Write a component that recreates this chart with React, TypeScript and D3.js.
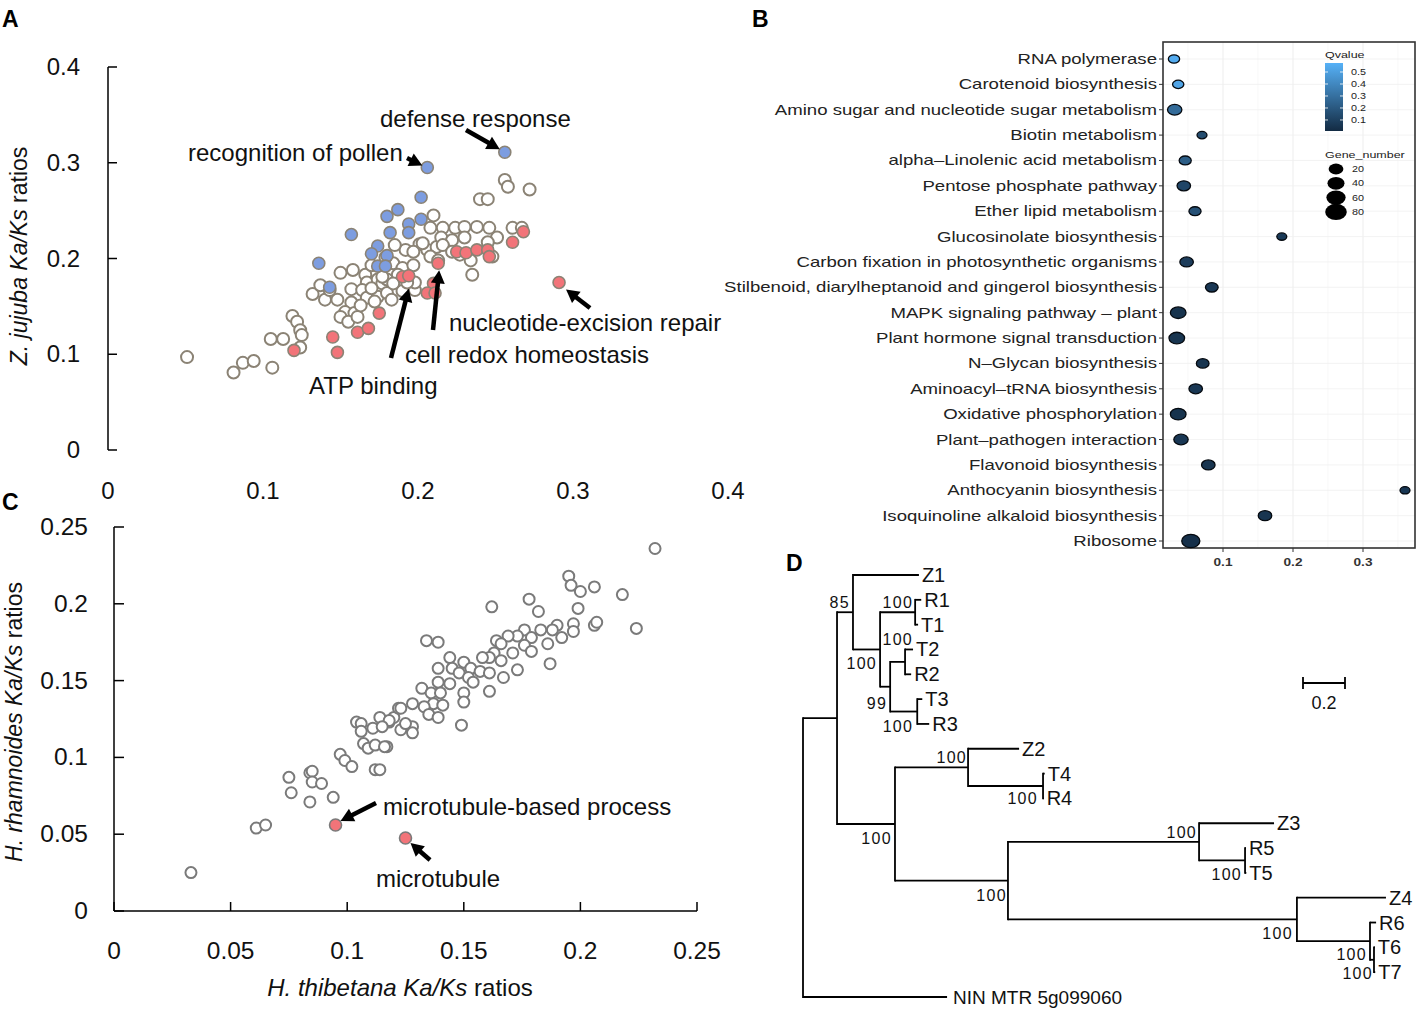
import React from 'react';
import * as d3 from 'd3';

// ---------------- Panel A data (H. thibetana vs Z. jujuba Ka/Ks) ----------------
const aWhite: [number, number][] = [
  [0.210, 0.245], [0.208, 0.232], [0.201, 0.215], [0.192, 0.209], [0.197, 0.207], [0.206, 0.209],
  [0.212, 0.212], [0.184, 0.195], [0.190, 0.190], [0.197, 0.193], [0.187, 0.183], [0.150, 0.185],
  [0.158, 0.188], [0.166, 0.183], [0.167, 0.175], [0.174, 0.178], [0.177, 0.174], [0.180, 0.178],
  [0.132, 0.163], [0.140, 0.157], [0.148, 0.157], [0.157, 0.168], [0.164, 0.167], [0.167, 0.159],
  [0.174, 0.160], [0.180, 0.164], [0.190, 0.166], [0.198, 0.167], [0.157, 0.154], [0.172, 0.155],
  [0.153, 0.144], [0.159, 0.143], [0.150, 0.139], [0.155, 0.134], [0.161, 0.139], [0.119, 0.140],
  [0.122, 0.134], [0.124, 0.125], [0.125, 0.120], [0.105, 0.116], [0.113, 0.116], [0.124, 0.107],
  [0.051, 0.097], [0.081, 0.081], [0.087, 0.091], [0.094, 0.093], [0.106, 0.086], [0.256, 0.282],
  [0.258, 0.275], [0.272, 0.272], [0.240, 0.262], [0.245, 0.262], [0.216, 0.232], [0.224, 0.232],
  [0.230, 0.233], [0.238, 0.233], [0.246, 0.232], [0.251, 0.222], [0.261, 0.232], [0.267, 0.232],
  [0.215, 0.222], [0.222, 0.219], [0.230, 0.222], [0.245, 0.217], [0.203, 0.216], [0.208, 0.202],
  [0.216, 0.214], [0.222, 0.207], [0.227, 0.204], [0.234, 0.198], [0.248, 0.202], [0.213, 0.198],
  [0.235, 0.183], [0.198, 0.175], [0.193, 0.175], [0.185, 0.214], [0.179, 0.201], [0.170, 0.169],
  [0.183, 0.157], [0.163, 0.151], [0.143, 0.167], [0.137, 0.172], [0.177, 0.181], [0.184, 0.174],
  [0.170, 0.193],
];
const aBlue: [number, number][] = [
  [0.256, 0.311], [0.206, 0.295], [0.202, 0.264], [0.187, 0.251], [0.180, 0.244], [0.202, 0.241],
  [0.194, 0.236], [0.182, 0.227], [0.194, 0.227], [0.157, 0.225], [0.174, 0.213], [0.170, 0.205],
  [0.180, 0.203], [0.136, 0.195], [0.174, 0.192], [0.179, 0.192], [0.143, 0.170],
];
const aRed: [number, number][] = [
  [0.190, 0.181], [0.194, 0.182], [0.175, 0.143], [0.161, 0.123], [0.168, 0.127], [0.145, 0.118],
  [0.120, 0.104], [0.148, 0.102], [0.210, 0.174], [0.206, 0.164], [0.211, 0.164], [0.213, 0.195],
  [0.268, 0.228], [0.261, 0.217], [0.225, 0.207], [0.231, 0.206], [0.238, 0.209], [0.245, 0.209],
  [0.246, 0.202], [0.291, 0.175],
];
const aTicks = [0, 0.1, 0.2, 0.3, 0.4];
const aLabels = ['defense response', 'recognition of pollen', 'nucleotide-excision repair', 'cell redox homeostasis', 'ATP binding'];

// ---------------- Panel B data (KEGG enrichment) ----------------
const bCategories = [
  'RNA polymerase', 'Carotenoid biosynthesis', 'Amino sugar and nucleotide sugar metabolism',
  'Biotin metabolism', 'alpha\u2013Linolenic acid metabolism', 'Pentose phosphate pathway',
  'Ether lipid metabolism', 'Glucosinolate biosynthesis', 'Carbon fixation in photosynthetic organisms',
  'Stilbenoid, diarylheptanoid and gingerol biosynthesis', 'MAPK signaling pathway \u2013 plant',
  'Plant hormone signal transduction', 'N\u2013Glycan biosynthesis', 'Aminoacyl\u2013tRNA biosynthesis',
  'Oxidative phosphorylation', 'Plant\u2013pathogen interaction', 'Flavonoid biosynthesis',
  'Anthocyanin biosynthesis', 'Isoquinoline alkaloid biosynthesis', 'Ribosome',
];
const bRichFactor = [0.030, 0.036, 0.031, 0.070, 0.046, 0.044, 0.060, 0.184, 0.048, 0.084,
  0.036, 0.034, 0.071, 0.061, 0.036, 0.040, 0.079, 0.360, 0.160, 0.054];
const bGeneNumber = [20, 20, 46, 9, 27, 39, 27, 9, 39, 32, 57, 57, 32, 39, 57, 46, 39, 9, 39, 78];
const bQvalue = [0.55, 0.52, 0.28, 0.15, 0.22, 0.12, 0.17, 0.07, 0.08, 0.06, 0.04, 0.05, 0.05,
  0.06, 0.04, 0.06, 0.05, 0.06, 0.05, 0.03];
const bTicks = [0.1, 0.2, 0.3];
const bQTicks = [0.1, 0.2, 0.3, 0.4, 0.5];
const bSizeTicks = [20, 40, 60, 80];

// ---------------- Panel C data (H. thibetana vs H. rhamnoides) ----------------
const cWhite: [number, number][] = [
  [0.033, 0.025], [0.061, 0.054], [0.065, 0.056], [0.075, 0.087], [0.076, 0.077], [0.084, 0.090],
  [0.085, 0.091], [0.085, 0.084], [0.089, 0.083], [0.084, 0.071], [0.094, 0.074], [0.097, 0.102],
  [0.099, 0.098], [0.102, 0.094], [0.112, 0.092], [0.104, 0.123], [0.106, 0.122], [0.106, 0.117],
  [0.111, 0.119], [0.114, 0.126], [0.118, 0.123], [0.120, 0.126], [0.122, 0.132], [0.107, 0.109],
  [0.109, 0.106], [0.112, 0.108], [0.117, 0.107], [0.232, 0.236], [0.195, 0.218], [0.196, 0.212],
  [0.200, 0.208], [0.206, 0.211], [0.218, 0.206], [0.199, 0.197], [0.206, 0.186], [0.207, 0.188],
  [0.224, 0.184], [0.178, 0.203], [0.182, 0.195], [0.162, 0.198], [0.134, 0.176], [0.139, 0.175],
  [0.190, 0.186], [0.197, 0.187], [0.188, 0.183], [0.192, 0.178], [0.197, 0.182], [0.186, 0.174],
  [0.183, 0.183], [0.176, 0.183], [0.179, 0.178], [0.173, 0.179], [0.169, 0.179], [0.164, 0.176],
  [0.166, 0.174], [0.176, 0.173], [0.171, 0.168], [0.179, 0.169], [0.163, 0.168], [0.161, 0.165],
  [0.158, 0.165], [0.144, 0.165], [0.150, 0.162], [0.153, 0.158], [0.157, 0.156], [0.161, 0.155],
  [0.166, 0.163], [0.167, 0.152], [0.173, 0.157], [0.187, 0.161], [0.139, 0.158], [0.145, 0.158],
  [0.148, 0.155], [0.152, 0.152], [0.154, 0.149], [0.161, 0.143], [0.139, 0.149], [0.144, 0.148],
  [0.150, 0.142], [0.150, 0.136], [0.132, 0.145], [0.136, 0.142], [0.140, 0.142], [0.137, 0.135],
  [0.141, 0.134], [0.133, 0.133], [0.128, 0.135], [0.135, 0.128], [0.139, 0.126], [0.123, 0.132],
  [0.118, 0.124], [0.123, 0.118], [0.128, 0.120], [0.128, 0.116], [0.125, 0.122], [0.115, 0.120],
  [0.149, 0.121], [0.116, 0.107], [0.114, 0.092],
];
const cRed: [number, number][] = [[0.095, 0.056], [0.125, 0.0475]];
const cTicks = [0, 0.05, 0.1, 0.15, 0.2, 0.25];
const cLabels = ['microtubule-based process', 'microtubule'];

// ---------------- Panel D data (phylogenetic tree, branch lengths) ----------------
type TNode = { name: string; len: number; boot?: number; children?: TNode[] };
const treeData: TNode = {
  name: 'root', len: 0, children: [
    { name: 'C1', len: 0.162, children: [
      { name: 'N85', len: 0.076, boot: 85, children: [
        { name: 'Z1', len: 0.314 },
        { name: 'N100a', len: 0.129, boot: 100, children: [
          { name: 'NR1T1', len: 0.167, boot: 100, children: [
            { name: 'R1', len: 0.029 }, { name: 'T1', len: 0.014 }] },
          { name: 'N99', len: 0.048, boot: 99, children: [
            { name: 'NT2R2', len: 0.071, boot: 100, children: [
              { name: 'T2', len: 0.038 }, { name: 'R2', len: 0.029 }] },
            { name: 'NT3R3', len: 0.129, boot: 100, children: [
              { name: 'T3', len: 0.024 }, { name: 'R3', len: 0.057 }] }] }] }] },
      { name: 'N100b', len: 0.276, boot: 100, children: [
        { name: 'NZ2', len: 0.348, boot: 100, children: [
          { name: 'Z2', len: 0.243 },
          { name: 'NT4R4', len: 0.357, boot: 100, children: [
            { name: 'T4', len: 0.008 }, { name: 'R4', len: 0.003 }] }] },
        { name: 'N1008', len: 0.538, boot: 100, children: [
          { name: 'NZ3', len: 0.910, boot: 100, children: [
            { name: 'Z3', len: 0.357 },
            { name: 'NR5T5', len: 0.219, boot: 100, children: [
              { name: 'R5', len: 0.004 }, { name: 'T5', len: 0.006 }] }] },
          { name: 'NZ4', len: 1.376, boot: 100, children: [
            { name: 'Z4', len: 0.424 },
            { name: 'NA', len: 0.348, boot: 100, children: [
              { name: 'R6', len: 0.029 },
              { name: 'NB', len: 0.019, boot: 100, children: [
                { name: 'T6', len: 0.004 }, { name: 'T7', len: 0.006 }] }] }] }] }] }] },
    { name: 'NIN MTR 5g099060', len: 0.686 },
  ],
};
const scaleBarLength = 0.2;

// label placement for bootstrap values: [dx, dy] relative to node
const bootOffsets: Record<string, [number, number]> = {
  N85: [-3, -4], N100a: [-3, 20], NR1T1: [-2, -4], N99: [-3, 22], NT2R2: [8, -17], NT3R3: [-4, 20],
  N100b: [-3, 20], NZ2: [-1, -4], NT4R4: [-5, 18], N1008: [-1, 20], NZ3: [-2, -4], NR5T5: [-3, 20],
  NZ4: [-4, 20], NA: [-3, 19], NB: [-1, 19],
};

const FONT = 'Liberation Sans, Arial, Helvetica, sans-serif';

function Arrow({ x1, y1, x2, y2 }: { x1: number; y1: number; x2: number; y2: number }) {
  const dx = x2 - x1, dy = y2 - y1;
  const L = Math.sqrt(dx * dx + dy * dy);
  const ux = dx / L, uy = dy / L;
  const hl = 13, hw = 7;
  const bx = x2 - ux * hl, by = y2 - uy * hl;
  const px = -uy, py = ux;
  return (
    <g>
      <line x1={x1} y1={y1} x2={bx + ux * 2} y2={by + uy * 2} stroke="#000" strokeWidth={4.5} />
      <polygon points={`${x2},${y2} ${bx + px * hw},${by + py * hw} ${bx - px * hw},${by - py * hw}`} fill="#000" />
    </g>
  );
}

function PanelA() {
  const x = d3.scaleLinear().domain([0, 0.4]).range([108, 728]);
  const y = d3.scaleLinear().domain([0, 0.4]).range([450, 67]);
  const fmt = d3.format('~g');
  const stroke = '#8b8375';
  const ann = [
    { t: aLabels[0], tx: 380, ty: 127, p: aBlue[0], tail: [466, 130], off: [-5, -3] },
    { t: aLabels[1], tx: 188, ty: 161, p: aBlue[1], tail: [407, 158], off: [-5, -2] },
    { t: aLabels[2], tx: 449, ty: 331, p: aRed[19], tail: [590, 308], off: [7, 7] },
    { t: aLabels[3], tx: 405, ty: 363, p: aRed[11], tail: [433, 330], off: [1, 7] },
    { t: aLabels[4], tx: 309, ty: 394, p: aRed[1], tail: [391, 358], off: [0, 13] },
  ];
  return (
    <g fontFamily={FONT}>
      <line x1={108} x2={108} y1={y(0.4)} y2={y(0)} stroke="#000" strokeWidth={1.5} />
      {aTicks.map((t) => (
        <g key={'ay' + t}>
          <line x1={108} x2={117} y1={y(t)} y2={y(t)} stroke="#000" strokeWidth={1.5} />
          <text x={80} y={y(t) + 8} textAnchor="end" fontSize={24} fill="#111">{fmt(t)}</text>
        </g>
      ))}
      {aTicks.map((t) => (
        <text key={'ax' + t} x={x(t)} y={499} textAnchor="middle" fontSize={24} fill="#111">{fmt(t)}</text>
      ))}
      <text transform="translate(27,256) rotate(-90)" textAnchor="middle" fontSize={23} fill="#111">
        <tspan fontStyle="italic">Z. jujuba Ka/Ks</tspan> ratios
      </text>
      {aWhite.map((d, i) => (
        <circle key={'aw' + i} cx={x(d[0])} cy={y(d[1])} r={6} fill="#fff" stroke={stroke} strokeWidth={2} />
      ))}
      {aBlue.map((d, i) => (
        <circle key={'ab' + i} cx={x(d[0])} cy={y(d[1])} r={6} fill="#7d9de0" stroke={stroke} strokeWidth={1.6} />
      ))}
      {aRed.map((d, i) => (
        <circle key={'ar' + i} cx={x(d[0])} cy={y(d[1])} r={6} fill="#f27479" stroke={stroke} strokeWidth={1.6} />
      ))}
      {ann.map((a, i) => (
        <g key={'aa' + i}>
          <Arrow x1={a.tail[0]} y1={a.tail[1]} x2={x(a.p[0]) + a.off[0]} y2={y(a.p[1]) + a.off[1]} />
          <text x={a.tx} y={a.ty} fontSize={24} fill="#111">{a.t}</text>
        </g>
      ))}
    </g>
  );
}

function PanelB() {
  const x = d3.scaleLinear().domain([0, 0.1]).range([1153, 1223]);
  const y = d3.scalePoint<string>().domain(bCategories).range([59, 541]);
  const left = 1163, right = 1415, top = 42, bottom = 548;
  const qDomain: [number, number] = [0.008, 0.575];
  const color = d3.scaleLinear<string>().domain(qDomain).range(['#132B43', '#56B1F7']).interpolate(d3.interpolateRgb);
  const ry = d3.scaleLinear().domain([0, 80]).range([3.3, 6.8]);
  const sx = 1.3;
  const cbY = d3.scaleLinear().domain(qDomain).range([131, 63]);
  const minor = [0.05, 0.15, 0.25, 0.35];
  return (
    <g fontFamily={FONT}>
      <rect x={left} y={top} width={right - left} height={bottom - top} fill="#fff" />
      {minor.map((m) => (
        <line key={'mn' + m} x1={x(m)} x2={x(m)} y1={top} y2={bottom} stroke="#f4f4f4" strokeWidth={0.6} />
      ))}
      {bTicks.map((t) => (
        <line key={'mj' + t} x1={x(t)} x2={x(t)} y1={top} y2={bottom} stroke="#ebebeb" strokeWidth={0.9} />
      ))}
      {bCategories.map((c) => (
        <line key={'hg' + c} x1={left} x2={right} y1={y(c)} y2={y(c)} stroke="#f0f0f0" strokeWidth={0.8} />
      ))}
      <rect x={left} y={top} width={right - left} height={bottom - top} fill="none" stroke="#333" strokeWidth={1.6} />
      {bCategories.map((c) => (
        <g key={'yl' + c}>
          <line x1={left - 4} x2={left} y1={y(c)} y2={y(c)} stroke="#333" strokeWidth={1} />
          <text transform={`translate(${left - 6},${(y(c) as number) + 5}) scale(${sx},1)`} textAnchor="end" fontSize={14.3} fill="#222">{c}</text>
        </g>
      ))}
      {bTicks.map((t) => (
        <g key={'xt' + t}>
          <line x1={x(t)} x2={x(t)} y1={bottom} y2={bottom + 4} stroke="#333" strokeWidth={1} />
          <text transform={`translate(${x(t)},${bottom + 18}) scale(${sx},1)`} textAnchor="middle" fontSize={10.5} fontWeight="bold" fill="#333">{t}</text>
        </g>
      ))}
      {bCategories.map((c, i) => (
        <ellipse key={'pt' + c} cx={x(bRichFactor[i])} cy={y(c)} rx={ry(bGeneNumber[i]) * 1.35} ry={ry(bGeneNumber[i])}
          fill={color(bQvalue[i])} stroke="#050a10" strokeWidth={1.3} />
      ))}
      {/* legend */}
      <text transform={`translate(1325,58) scale(${sx},1)`} fontSize={9.6} fill="#222">Qvalue</text>
      <defs>
        <linearGradient id="qgrad" x1="0" x2="0" y1="1" y2="0">
          <stop offset="0%" stopColor={color(qDomain[0])} />
          <stop offset="100%" stopColor={color(qDomain[1])} />
        </linearGradient>
      </defs>
      <rect x={1325} y={63} width={18} height={68} fill="url(#qgrad)" />
      {bQTicks.map((q) => (
        <g key={'qt' + q}>
          <line x1={1325} x2={1328} y1={cbY(q)} y2={cbY(q)} stroke="#fff" strokeWidth={0.8} />
          <line x1={1340} x2={1343} y1={cbY(q)} y2={cbY(q)} stroke="#fff" strokeWidth={0.8} />
          <text transform={`translate(1351,${cbY(q) + 3}) scale(${sx},1)`} fontSize={8.3} fill="#222">{q}</text>
        </g>
      ))}
      <text transform={`translate(1325,158) scale(${sx},1)`} fontSize={9.6} fill="#222">Gene_number</text>
      {bSizeTicks.map((s, i) => (
        <g key={'gs' + s}>
          <ellipse cx={1336} cy={169 + i * 14.3} rx={(ry(s) + 1.5) * 1.3} ry={ry(s) + 1.3} fill="#000" />
          <text transform={`translate(1352,${169 + i * 14.3 + 3}) scale(${sx},1)`} fontSize={8.3} fill="#222">{s}</text>
        </g>
      ))}
    </g>
  );
}

function PanelC() {
  const x = d3.scaleLinear().domain([0, 0.25]).range([114, 697]);
  const y = d3.scaleLinear().domain([0, 0.25]).range([911, 527]);
  const fmt = d3.format('~g');
  const stroke = '#7a7a7a';
  const ann = [
    { t: cLabels[0], tx: 383, ty: 815, p: cRed[0], tail: [376, 803], off: [5, -4] },
    { t: cLabels[1], tx: 376, ty: 887, p: cRed[1], tail: [430, 860], off: [5, 5] },
  ];
  return (
    <g fontFamily={FONT}>
      <line x1={114} x2={114} y1={y(0.25)} y2={y(0)} stroke="#000" strokeWidth={1.5} />
      <line x1={114} x2={697} y1={y(0)} y2={y(0)} stroke="#000" strokeWidth={1.5} />
      {cTicks.map((t) => (
        <g key={'cy' + t}>
          <line x1={114} x2={124} y1={y(t)} y2={y(t)} stroke="#000" strokeWidth={1.5} />
          <text x={88} y={y(t) + 8} textAnchor="end" fontSize={24.5} fill="#111">{fmt(t)}</text>
        </g>
      ))}
      {cTicks.map((t) => (
        <g key={'cx' + t}>
          <line x1={x(t)} x2={x(t)} y1={911} y2={902} stroke="#000" strokeWidth={1.5} />
          <text x={x(t)} y={959} textAnchor="middle" fontSize={24.5} fill="#111">{fmt(t)}</text>
        </g>
      ))}
      <text x={400} y={996} textAnchor="middle" fontSize={24} fill="#111">
        <tspan fontStyle="italic">H. thibetana Ka/Ks</tspan> ratios
      </text>
      <text transform="translate(22,722) rotate(-90)" textAnchor="middle" fontSize={23} fill="#111">
        <tspan fontStyle="italic">H. rhamnoides  Ka/Ks</tspan> ratios
      </text>
      {cWhite.map((d, i) => (
        <circle key={'cw' + i} cx={x(d[0])} cy={y(d[1])} r={5.5} fill="#fff" stroke={stroke} strokeWidth={2} />
      ))}
      {cRed.map((d, i) => (
        <circle key={'cr' + i} cx={x(d[0])} cy={y(d[1])} r={6} fill="#f27479" stroke={stroke} strokeWidth={1.6} />
      ))}
      {ann.map((a, i) => (
        <g key={'ca' + i}>
          <Arrow x1={a.tail[0]} y1={a.tail[1]} x2={x(a.p[0]) + a.off[0]} y2={y(a.p[1]) + a.off[1]} />
          <text x={a.tx} y={a.ty} fontSize={24} fill="#111">{a.t}</text>
        </g>
      ))}
    </g>
  );
}

function PanelD() {
  const root = d3.hierarchy<TNode>(treeData);
  const leaves = root.leaves();
  const yLeaf = d3.scaleLinear().domain([0, leaves.length - 1]).range([575, 997]);
  const x = d3.scaleLinear().domain([0, 1]).range([803, 1013]);
  const pos = new Map<any, { x: number; y: number }>();
  const depthLen = (n: any): number => (n.parent ? depthLen(n.parent) + n.data.len : 0);
  leaves.forEach((l, i) => pos.set(l, { x: x(depthLen(l)), y: yLeaf(i) }));
  root.eachAfter((n: any) => {
    if (n.children) {
      const ys = n.children.map((c: any) => pos.get(c)!.y);
      pos.set(n, { x: x(depthLen(n)), y: (ys[0] + ys[ys.length - 1]) / 2 });
    }
  });
  const lines: any[] = [];
  const texts: any[] = [];
  root.each((n: any) => {
    const p = pos.get(n)!;
    if (n.parent) {
      const pp = pos.get(n.parent)!;
      lines.push(<line key={'h' + n.data.name} x1={pp.x} x2={p.x} y1={p.y} y2={p.y} stroke="#000" strokeWidth={1.8} />);
    }
    if (n.children) {
      const ys = n.children.map((c: any) => pos.get(c)!.y);
      lines.push(<line key={'v' + n.data.name} x1={p.x} x2={p.x} y1={ys[0] - 0.9} y2={ys[ys.length - 1] + 0.9} stroke="#000" strokeWidth={1.8} />);
      if (n.data.boot !== undefined) {
        const o = bootOffsets[n.data.name] || [-3, -4];
        texts.push(<text key={'b' + n.data.name} x={p.x + o[0]} y={p.y + o[1]} textAnchor="end" fontSize={16} letterSpacing={1.3} fill="#111">{n.data.boot}</text>);
      }
    } else {
      const isOut = n.data.name.length > 3;
      texts.push(<text key={'l' + n.data.name} x={p.x + (isOut ? 6 : 3)} y={p.y + 7} fontSize={isOut ? 19 : 20} fill="#111">{n.data.name}</text>);
    }
  });
  const sbX = 1303;
  const sbW = x(scaleBarLength) - x(0);
  return (
    <g fontFamily={FONT}>
      {lines}
      {texts}
      <line x1={sbX} x2={sbX + sbW} y1={683} y2={683} stroke="#000" strokeWidth={1.8} />
      <line x1={sbX} x2={sbX} y1={677} y2={689} stroke="#000" strokeWidth={1.8} />
      <line x1={sbX + sbW} x2={sbX + sbW} y1={677} y2={689} stroke="#000" strokeWidth={1.8} />
      <text x={sbX + sbW / 2} y={709} textAnchor="middle" fontSize={18} fill="#111">{scaleBarLength}</text>
    </g>
  );
}

export default function App() {
  return (
    <svg width={1417} height={1009} viewBox="0 0 1417 1009" style={{ position: 'absolute', left: 0, top: 0, background: '#fff' }}>
      <rect x={0} y={0} width={1417} height={1009} fill="#fff" />
      <PanelA />
      <PanelB />
      <PanelC />
      <PanelD />
      <g fontFamily={FONT} fontWeight="bold" fontSize={23} fill="#000">
        <text x={2} y={27}>A</text>
        <text x={752} y={27}>B</text>
        <text x={2} y={510}>C</text>
        <text x={786} y={571}>D</text>
      </g>
    </svg>
  );
}
